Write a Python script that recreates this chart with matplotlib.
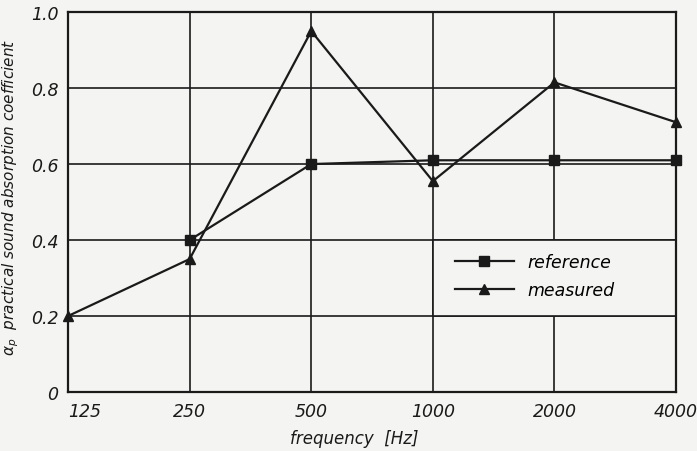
import matplotlib
matplotlib.use("Agg")
import matplotlib.pyplot as plt
from matplotlib.patches import Rectangle

freqs = [125, 250, 500, 1000, 2000, 4000]
freq_labels = ["125", "250", "500", "1000", "2000", "4000"]
ref_freqs = [250, 500, 1000, 2000, 4000]
reference = [0.40, 0.60, 0.61, 0.61, 0.61]
measured = [0.20, 0.35, 0.95, 0.555, 0.815, 0.71]
yticks = [0, 0.2, 0.4, 0.6, 0.8, 1.0]
ytick_labels = ["0", "0.2", "0.4", "0.6", "0.8", "1.0"]

bg = "#f4f4f2"
ink = "#1a1a1a"
plt.rcParams["font.family"] = ["DejaVu Sans"]

fig = plt.figure(figsize=(6.97, 4.52), dpi=100, facecolor=bg)
ax = fig.add_axes([0.0976, 0.1305, 0.8724, 0.8405], facecolor=bg)

ax.set_xscale("log", base=2)
ax.set_xlim(125, 4000)
ax.set_ylim(0, 1.0)

for f in freqs:
    ax.axvline(f, color=ink, lw=1.2, zorder=1)
for y in yticks:
    ax.axhline(y, color=ink, lw=1.2, zorder=1)

# legend panel covering grid
ax.add_patch(Rectangle((1000, 0.2), 3000, 0.2, facecolor=bg, edgecolor=ink,
                       lw=1.2, zorder=1.5))

ax.plot(ref_freqs, reference, color=ink, lw=1.6, marker="s", ms=6.5,
        label="reference", zorder=3, clip_on=False)
ax.plot(freqs, measured, color=ink, lw=1.6, marker="^", ms=7.5,
        label="measured", zorder=3, clip_on=False)

for s in ax.spines.values():
    s.set_color(ink)
    s.set_linewidth(1.6)

ax.set_xticks(freqs)
ax.set_xticklabels(freq_labels, fontsize=12.5, style="italic", color=ink)
ax.set_yticks(yticks)
ax.set_yticklabels(ytick_labels, fontsize=12.5, style="italic", color=ink)
ax.tick_params(length=0, pad=7)
ax.get_xticklabels()[0].set_horizontalalignment("left")
ax.minorticks_off()

ax.set_xlabel("frequency  [Hz]", fontsize=12, style="italic", color=ink)
ax.xaxis.set_label_coords(0.47, -0.097)
ax.set_ylabel(r"$\alpha_p$  practical sound absorption coefficient", fontsize=11,
              style="italic", color=ink)
ax.yaxis.set_label_coords(-0.077, 0.515)

leg = ax.legend(loc="center left", bbox_to_anchor=(0.61, 0.305), frameon=False,
                handlelength=3.4, labelspacing=0.55,
                prop={"style": "italic", "size": 12.5})

fig.savefig("out.png", dpi=100, facecolor=bg)
